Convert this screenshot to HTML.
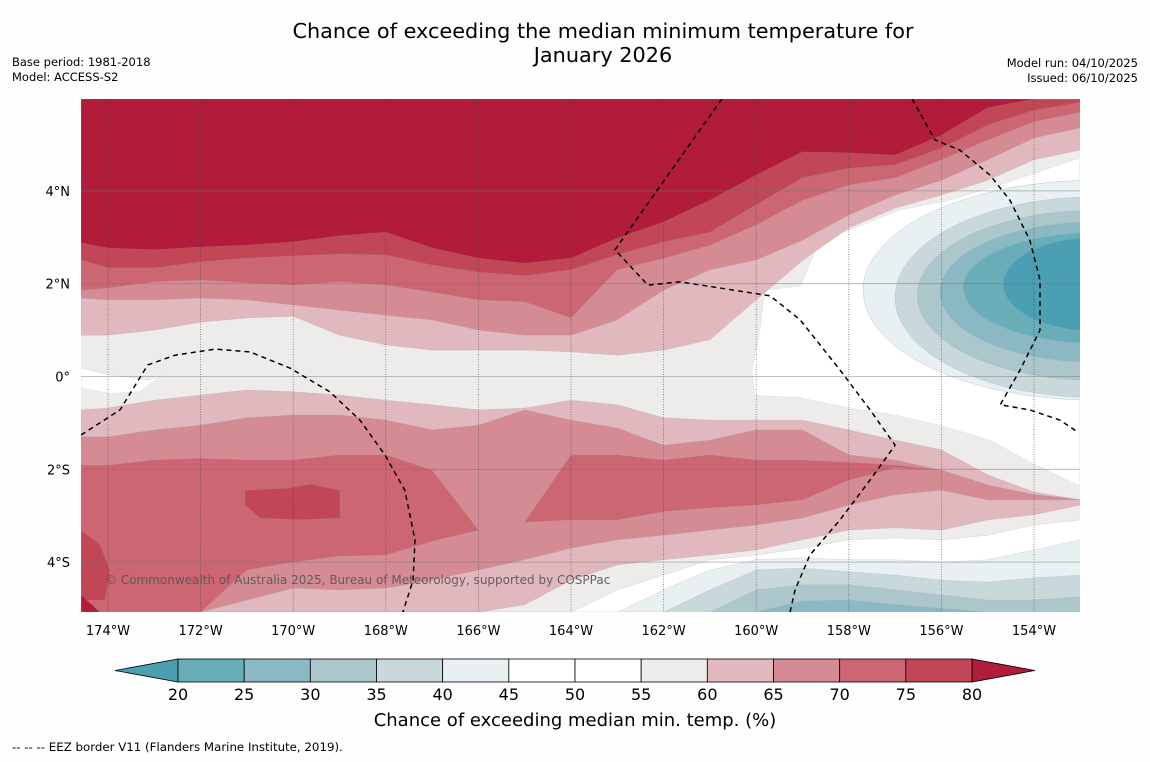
<!DOCTYPE html>
<html><head><meta charset="utf-8">
<style>
html,body{margin:0;padding:0;background:#fefefe;}
body{width:1150px;height:758px;overflow:hidden;font-family:"DejaVu Sans","Liberation Sans",sans-serif;}
svg text{font-family:"DejaVu Sans","Liberation Sans",sans-serif;}
</style></head>
<body>
<svg id="chart" width="1150" height="758" xmlns="http://www.w3.org/2000/svg">
<text x="603" y="38" font-size="20.8" text-anchor="middle" fill="#000">Chance of exceeding the median minimum temperature for</text>
<text x="603" y="62" font-size="20.8" text-anchor="middle" fill="#000">January 2026</text>
<text x="12" y="66" font-size="11.5">Base period: 1981-2018</text>
<text x="12" y="81" font-size="11.5">Model: ACCESS-S2</text>
<text x="1138" y="67" font-size="11.5" text-anchor="end">Model run: 04/10/2025</text>
<text x="1138" y="82" font-size="11.5" text-anchor="end">Issued: 06/10/2025</text>
<defs><clipPath id="mapclip"><rect x="81" y="99" width="999" height="513"/></clipPath></defs>
<g id="map" clip-path="url(#mapclip)"></g>
<g id="axes"></g>
<g id="cbar"></g>
<text x="575" y="726" font-size="18" text-anchor="middle">Chance of exceeding median min. temp. (%)</text>
<text x="12" y="751" font-size="11.8">--  --  -- EEZ border V11 (Flanders Marine Institute, 2019).</text>
</svg>
<script>
// ---- data ----
const lonGrid = [-174.58,-174,-173,-172,-171,-170,-169,-168,-167,-166,-165,-164,-163,-162,-161,-160,-159,-158,-157,-156,-155,-154,-153];
const north60 = [0.89,0.89,1.00,1.17,1.26,1.30,0.89,0.68,0.57,0.57,0.57,0.53,0.46,0.57,0.79,1.65,2.50,3.20,3.63,3.91,4.23,4.67,4.88];
const north65 = [1.69,1.65,1.65,1.69,1.65,1.54,1.43,1.32,1.22,1.00,0.89,0.89,1.22,1.86,2.30,2.51,2.94,3.48,3.91,4.23,4.67,5.14,5.36];
const north70 = [1.86,1.91,2.04,2.08,2.02,1.97,2.04,1.97,1.82,1.65,1.61,1.26,2.30,2.55,2.83,3.27,3.80,4.13,4.28,4.67,5.10,5.49,5.70];
const north75 = [2.51,2.34,2.34,2.47,2.55,2.60,2.64,2.62,2.40,2.25,2.17,2.30,2.62,2.90,3.11,3.70,4.28,4.49,4.56,4.92,5.42,5.74,5.91];
const north80 = [2.88,2.77,2.73,2.79,2.83,2.90,3.03,3.11,2.77,2.55,2.44,2.55,2.98,3.33,3.80,4.34,4.84,4.82,4.77,5.20,5.79,5.98,5.98];
const south60 = [-0.72,-0.68,-0.51,-0.40,-0.29,-0.33,-0.40,-0.51,-0.61,-0.72,-0.68,-0.51,-0.61,-0.89,-0.94,-0.94,-0.94,-1.15,-1.37,-1.58,-2.12,-2.49,-2.66];
const south65 = [-1.30,-1.30,-1.15,-1.05,-0.89,-0.83,-0.83,-0.94,-1.15,-1.05,-0.72,-0.94,-1.11,-1.48,-1.37,-1.15,-1.15,-1.69,-1.80,-2.02,-2.34,-2.55,-2.66];
const south70 = [-1.91,-1.91,-1.80,-1.76,-1.80,-1.80,-1.69,-1.69,-2.02,-3.31,-3.14,-1.69,-1.69,-1.80,-1.69,-1.80,-1.80,-1.85,-1.91,-2.02,-2.34,-2.55,-2.66];
const below70 = [-5.08,-5.08,-5.08,-5.08,-4.17,-4.00,-3.87,-3.85,-3.55,-3.31,-3.14,-3.09,-3.09,-2.91,-2.83,-2.77,-2.66,-2.23,-1.97,-2.02,-2.34,-2.55,-2.66];
const below65 = [-5.08,-5.08,-5.08,-5.08,-4.82,-4.56,-4.60,-4.56,-4.39,-4.17,-3.95,-3.70,-3.52,-3.42,-3.31,-3.20,-3.05,-2.77,-2.55,-2.45,-2.66,-2.66,-2.66];
const below60 = [-5.08,-5.08,-5.08,-5.08,-5.08,-5.08,-5.08,-5.08,-5.08,-5.08,-4.92,-4.39,-4.06,-3.95,-3.85,-3.74,-3.52,-3.31,-3.26,-3.31,-3.09,-2.98,-2.77];
const below55 = [-5.08,-5.08,-5.08,-5.08,-5.08,-5.08,-5.08,-5.08,-5.08,-5.08,-5.08,-5.08,-4.60,-4.28,-3.95,-3.85,-3.70,-3.52,-3.48,-3.52,-3.42,-3.20,-3.09];
const below45 = [-5.08,-5.08,-5.08,-5.08,-5.08,-5.08,-5.08,-5.08,-5.08,-5.08,-5.08,-5.08,-5.08,-4.60,-4.17,-3.95,-3.91,-3.95,-3.95,-4.00,-3.95,-3.74,-3.52];
const below40 = [-5.08,-5.08,-5.08,-5.08,-5.08,-5.08,-5.08,-5.08,-5.08,-5.08,-5.08,-5.08,-5.08,-5.08,-4.60,-4.17,-4.13,-4.21,-4.28,-4.39,-4.43,-4.34,-4.28];
const below35 = [-5.08,-5.08,-5.08,-5.08,-5.08,-5.08,-5.08,-5.08,-5.08,-5.08,-5.08,-5.08,-5.08,-5.08,-5.08,-4.60,-4.49,-4.49,-4.60,-4.71,-4.82,-4.82,-4.75];
const below30 = [-5.08,-5.08,-5.08,-5.08,-5.08,-5.08,-5.08,-5.08,-5.08,-5.08,-5.08,-5.08,-5.08,-5.08,-5.08,-5.08,-4.84,-4.82,-4.92,-5.00,-5.08,-5.08,-5.08];
const whiteEastLon = [-159.81,-159.05,-158.62,-157.97,-156.89,-155.81,-154.73,-153.01,-153.01,-154.09,-154.95,-156.03,-157.0,-157.97,-159.05,-160.03,-160.09,-159.92];
const whiteEastLat = [1.86,1.95,2.94,3.16,3.59,3.80,4.13,4.71,-2.36,-1.84,-1.37,-1.05,-0.83,-0.68,-0.46,-0.40,0.14,1.0];
const whiteWestLon = [-174.58,-173.96,-173.09,-172.77,-173.31,-173.96,-174.58];
const whiteWestLat = [0.18,0.03,-0.08,0.10,-0.33,-0.36,-0.25];
const coreLevels = [45,40,35,30,25,20];
const coreLon = [-152.68,-152.68,-152.68,-152.68,-152.68,-152.68];
const coreLat = [1.86,1.71,1.75,1.82,1.91,1.99];
const coreRx = [5.01,4.32,3.84,3.35,2.85,1.99];
const coreRy = [2.37,2.16,1.83,1.51,1.19,1.01];
const blob75Lon = [-171.04,-170.07,-169.64,-168.99,-168.99,-169.85,-170.72,-171.04];
const blob75Lat = [-2.45,-2.40,-2.32,-2.45,-3.05,-3.09,-3.05,-2.77];
const edge75Lon = [-174.58,-174.17,-173.96,-174.06,-174.58];
const edge75Lat = [-3.31,-3.63,-4.17,-4.82,-4.82];
const corner80Lon = [-174.58,-174.17,-174.58];
const corner80Lat = [-4.71,-5.08,-5.08];
const eez1Lon = [-160.74,-163.05,-162.34,-161.65,-159.70,-159.05,-158.19,-157.54,-157.0,-157.54,-158.19,-158.84,-159.16,-159.27];
const eez1Lat = [5.98,2.73,1.97,2.04,1.74,1.22,0.14,-0.72,-1.48,-2.23,-3.09,-3.85,-4.60,-5.08];
const eez2Lon = [-156.63,-156.14,-155.60,-154.95,-154.52,-154.09,-153.87,-153.87,-154.30,-154.73,-154.09,-153.44,-153.05];
const eez2Lat = [5.98,5.10,4.88,4.34,3.80,2.94,2.08,1.00,0.14,-0.61,-0.72,-0.94,-1.20];
const eez3Lon = [-174.58,-173.74,-173.14,-172.55,-171.69,-170.93,-170.07,-169.21,-168.56,-168.02,-167.59,-167.37,-167.41,-167.63];
const eez3Lat = [-1.26,-0.72,0.25,0.46,0.59,0.53,0.18,-0.33,-0.94,-1.69,-2.45,-3.52,-4.39,-5.08];
const lonTicks = [-174,-172,-170,-168,-166,-164,-162,-160,-158,-156,-154];
const lonTickLabels = ["174°W","172°W","170°W","168°W","166°W","164°W","162°W","160°W","158°W","156°W","154°W"];
const latTicks = [4,2,0,-2,-4];
const latTickLabels = ["4°N","2°N","0°","2°S","4°S"];
const cbLevels = [20,25,30,35,40,45,50,55,60,65,70,75,80];
const cbColors = ["#69adb9","#8ab9c4","#abc7cc","#c9d8da","#e9f0f2","#ffffff","#ffffff","#eeeceb","#e0b8bd","#d58b94","#cb6672","#c14656"];
const cbUnder = "#4aa0b2";
const cbOver = "#b01c3a";

const X = lon => 108 + (lon + 174) * 46.3;
const Y = lat => 376.5 - lat * 46.4;
const TOP = 5.98, BOT = -5.08;
const NS = "http://www.w3.org/2000/svg";
const map = document.getElementById('map');
function mk(tag, attrs, parent){const e=document.createElementNS(NS,tag);for(const k in attrs)e.setAttribute(k,attrs[k]);parent.appendChild(e);return e;}
function ptsFromLine(lats){return lats.map((v,i)=>X(lonGrid[i]).toFixed(1)+','+Y(v).toFixed(1));}
function bandFromTop(lats,color,name){
  const p=[X(lonGrid[0])+','+Y(TOP)].concat(ptsFromLine(lats)).concat([X(lonGrid[lonGrid.length-1])+','+Y(TOP)]);
  const e=mk('polygon',{points:p.join(' '),fill:color,stroke:'#999',"stroke-width":0.3,"stroke-opacity":0.6},map);
  
  
}
function bandFromBottom(lats,color,name){
  const p=[X(lonGrid[0])+','+Y(BOT)].concat(ptsFromLine(lats)).concat([X(lonGrid[lonGrid.length-1])+','+Y(BOT)]);
  const e=mk('polygon',{points:p.join(' '),fill:color,stroke:'#999',"stroke-width":0.3,"stroke-opacity":0.6},map);
  
  
}
function poly(lons,lats,color,name){
  const p=lons.map((l,i)=>X(l).toFixed(1)+','+Y(lats[i]).toFixed(1));
  const e=mk('polygon',{points:p.join(' '),fill:color,stroke:'#aaa',"stroke-width":0.3,"stroke-opacity":0.5},map);
  
  
}
const base=mk('rect',{x:81,y:99,width:999,height:513,fill:'#eeeceb'},map);


poly(whiteEastLon,whiteEastLat,'#ffffff','band-45-55-east');
poly(whiteWestLon,whiteWestLat,'#ffffff','band-45-55-west');
bandFromTop(north60,cbColors[8],'north-band-60');
bandFromTop(north65,cbColors[9],'north-band-65');
bandFromTop(north70,cbColors[10],'north-band-70');
bandFromTop(north75,cbColors[11],'north-band-75');
bandFromTop(north80,cbOver,'north-band-80');
bandFromBottom(south60,cbColors[8],'south-band-60');
bandFromBottom(south65,cbColors[9],'south-band-65');
bandFromBottom(south70,cbColors[10],'south-band-70');
bandFromBottom(below70,cbColors[9],'south-below-70');
bandFromBottom(below65,cbColors[8],'south-below-65');
bandFromBottom(below60,cbColors[7],'south-below-60');
bandFromBottom(below55,cbColors[5],'south-below-55');
bandFromBottom(below45,cbColors[4],'south-below-45');
bandFromBottom(below40,cbColors[3],'south-below-40');
bandFromBottom(below35,cbColors[2],'south-below-35');
bandFromBottom(below30,cbColors[1],'south-below-30');
poly(blob75Lon,blob75Lat,cbColors[11],'blob-75-west');
poly(edge75Lon,edge75Lat,cbColors[11],'blob-75-edge');
poly(corner80Lon,corner80Lat,cbOver,'blob-80-corner');
const coreColors = {45:cbColors[4],40:cbColors[3],35:cbColors[2],30:cbColors[1],25:cbColors[0],20:cbUnder};
coreLevels.forEach((lv,i)=>{
  const e=mk('ellipse',{cx:X(coreLon[i]),cy:Y(coreLat[i]),rx:coreRx[i]*46.3,ry:coreRy[i]*46.4,fill:coreColors[lv],stroke:'#9ab',"stroke-width":0.3},map);
  
  
});
lonTicks.forEach(l=>{
  const e=mk('line',{x1:X(l),x2:X(l),y1:99,y2:612,stroke:'#444',"stroke-width":0.7,"stroke-dasharray":"1,1.5","stroke-opacity":0.8},map);
  
  
});
latTicks.forEach(l=>{
  const e=mk('line',{x1:81,x2:1080,y1:Y(l),y2:Y(l),stroke:'#777',"stroke-width":0.8,"stroke-opacity":0.6},map);
  
  
});
[[eez1Lon,eez1Lat],[eez2Lon,eez2Lat],[eez3Lon,eez3Lat]].forEach((d,k)=>{
  const p=d[0].map((l,i)=>X(l).toFixed(1)+','+Y(d[1][i]).toFixed(1)).join(' ');
  const e=mk('polyline',{points:p,fill:'none',stroke:'#000',"stroke-width":1.5,"stroke-dasharray":"5,4"},map);
  
  
});
const cp=mk('text',{x:105,y:584,"font-size":12,fill:'#555',"fill-opacity":0.9},map);
cp.textContent='© Commonwealth of Australia 2025, Bureau of Meteorology, supported by COSPPac';


const axes=document.getElementById('axes');
lonTicks.forEach((l,i)=>{
  const t=mk('text',{x:X(l),y:635,"font-size":13,"text-anchor":"middle"},axes);
  t.textContent=lonTickLabels[i];
  
  
});
latTicks.forEach((l,i)=>{
  const t=mk('text',{x:70,y:Y(l)+5,"font-size":13,"text-anchor":"end"},axes);
  t.textContent=latTickLabels[i];
  
  
});
const cb=document.getElementById('cbar');
const CX = v => 178 + (v-20)*(972-178)/60;
const cy0=659, cy1=682;
const under=mk('polygon',{points:`${CX(20)},${cy0} ${CX(20)},${cy1} 115,${(cy0+cy1)/2}`,fill:cbUnder,stroke:'#000',"stroke-width":0.8},cb);


const over=mk('polygon',{points:`${CX(80)},${cy0} ${CX(80)},${cy1} 1035,${(cy0+cy1)/2}`,fill:cbOver,stroke:'#000',"stroke-width":0.8},cb);


cbColors.forEach((c,i)=>{
  const r=mk('rect',{x:CX(cbLevels[i]),y:cy0,width:CX(cbLevels[i+1])-CX(cbLevels[i]),height:cy1-cy0,fill:c,stroke:'#000',"stroke-width":0.8},cb);
  
  
});
cbLevels.forEach(v=>{
  const t=mk('text',{x:CX(v),y:700,"font-size":16,"text-anchor":"middle"},cb);
  t.textContent=v;
  
  
});
</script>
</body></html>
